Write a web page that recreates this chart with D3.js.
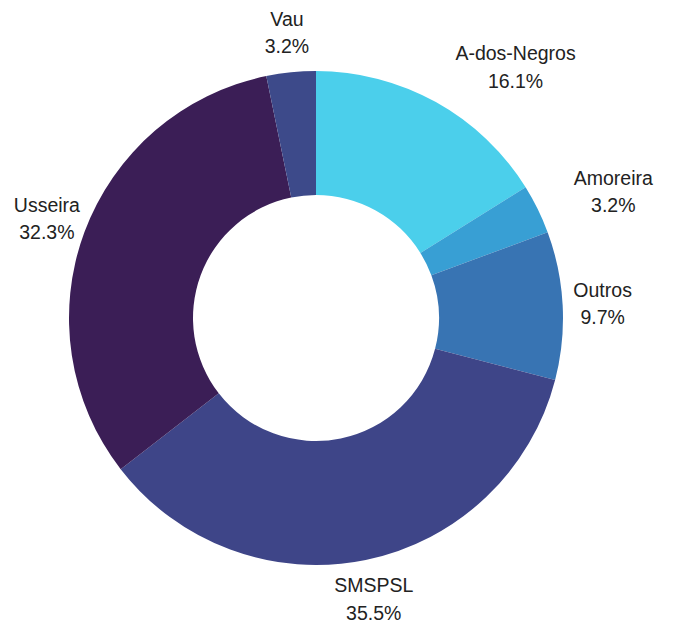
<!DOCTYPE html>
<html>
<head>
<meta charset="utf-8">
<script src="https://cdn.jsdelivr.net/npm/d3@7"></script>
<style>
  html, body { margin: 0; padding: 0; background: #ffffff; }
  svg { display: block; }
  text { font-family: "Liberation Sans", Arial, sans-serif; fill: #222222; }
</style>
</head>
<body>
<div id="chart"></div>
<script>
const categories = ["A-dos-Negros", "Amoreira", "Outros", "SMSPSL", "Usseira", "Vau"];
const counts = [5, 1, 3, 11, 10, 1];
const colors = ["#4BCFEB", "#389FD4", "#3874B3", "#3E4588", "#3B1E56", "#3D4A8A"];

const width = 676, height = 623;
const cx = 316, cy = 318;
const outerR = 247, innerR = 123, labelR = 287;
const fontSize = 19.5;

const svg = d3.select("#chart").append("svg")
  .attr("width", width).attr("height", height);

const g = svg.append("g").attr("transform", `translate(${cx},${cy})`);

const total = d3.sum(counts);
const data = categories.map((c, i) => ({ name: c, value: counts[i], color: colors[i] }));

const pie = d3.pie().value(d => d.value).sort(null);
const arc = d3.arc().innerRadius(innerR).outerRadius(outerR);
const arcs = pie(data);

g.selectAll("path.slice").data(arcs).join("path")
  .attr("class", "slice")
  .attr("d", arc)
  .attr("fill", d => d.data.color);

const fmt = v => (v / total * 100).toFixed(1) + "%";

arcs.forEach(d => {
  const a = (d.startAngle + d.endAngle) / 2;
  const px = Math.sin(a) * labelR, py = -Math.cos(a) * labelR;
  const t = g.append("text")
    .attr("text-anchor", "middle")
    .style("font-size", fontSize + "px");
  const s1 = t.append("tspan").attr("x", px).attr("y", py).attr("dy", "-0.7em")
    .attr("dominant-baseline", "central").text(d.data.name);
  const s2 = t.append("tspan").attr("x", px).attr("y", py).attr("dy", "0.7em")
    .attr("dominant-baseline", "central").text(fmt(d.data.value));
  // collision with donut: shift the whole block outward so its edge sits at the anchor point
  const b = t.node().getBBox();
  const nx = Math.max(b.x, Math.min(0, b.x + b.width));
  const ny = Math.max(b.y, Math.min(0, b.y + b.height));
  if (Math.hypot(nx, ny) < outerR - 3) {
    const shift = (px >= 0 ? 1 : -1) * b.width / 2;
    s1.attr("x", px + shift);
    s2.attr("x", px + shift);
  }
});
</script>
</body>
</html>
